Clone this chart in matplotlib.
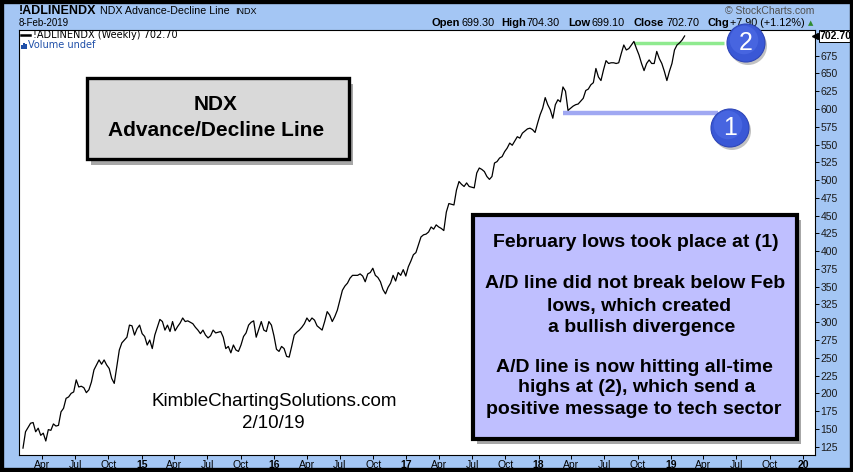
#!/usr/bin/env python3

import matplotlib
matplotlib.use("Agg")
import matplotlib.pyplot as plt
import matplotlib.dates as mdates
from matplotlib.patches import Rectangle, Circle
from matplotlib.lines import Line2D
from matplotlib.transforms import blended_transform_factory
import pandas as pd

W, H = 854, 472
BG = "#A4C6F4"
FONT = "Liberation Sans"

# weekly NDX advance/decline line (Feb 2014 .. 8 Feb 2019)
ad_values = [
    123, 146, 152, 158, 159, 146, 151, 141, 144, 133,
    149, 148, 157, 154, 155, 174, 179, 193, 195, 200,
    202, 219, 209, 210, 208, 201, 205, 216, 233, 240,
    247, 241, 247, 240, 235, 221, 214, 238, 261, 271,
    275, 279, 296, 295, 282, 291, 296, 284, 280, 268,
    275, 263, 282, 293, 304, 301, 289, 296, 287, 301,
    288, 294, 299, 306, 301, 302, 300, 298, 293, 289,
    284, 289, 282, 278, 281, 289, 285, 286, 287, 279,
    263, 266, 257, 268, 261, 259, 268, 280, 285, 296,
    300, 302, 279, 290, 301, 289, 287, 301, 296, 281,
    262, 259, 266, 263, 252, 251, 266, 282, 286, 289,
    293, 298, 306, 301, 306, 303, 295, 292, 289, 301,
    315, 310, 301, 308, 317, 331, 345, 351, 355, 362,
    366, 366, 366, 368, 365, 357, 368, 370, 376, 366,
    363, 357, 346, 340, 349, 355, 366, 358, 370, 366,
    374, 365, 378, 386, 395, 398, 409, 420, 423, 424,
    427, 434, 431, 437, 434, 432, 429, 455, 467, 466,
    465, 486, 498, 494, 491, 496, 491, 490, 489, 510,
    517, 515, 512, 505, 501, 505, 524, 526, 531, 533,
    540, 545, 552, 549, 555, 561, 559, 566, 569, 572,
    573, 571, 567, 580, 592, 601, 616, 606, 599, 587,
    606, 613, 610, 631, 625, 598, 601, 604, 606, 607,
    611, 615, 626, 628, 634, 637, 657, 645, 640, 655,
    668, 664, 665, 665, 664, 665, 678, 690, 683, 685,
    690, 695, 685, 676, 664, 654, 664, 669, 664, 664,
    681, 671, 664, 653, 640, 653, 664, 683, 690, 693,
    697, 702.7,
]
last_week = "2019-02-08"
last_close = "702.70"

y_ticks = list(range(125, 676, 25))
month_names = {4: "Apr", 7: "Jul", 10: "Oct"}

# horizontal reference lines: (level, start, end, colour)
resistance = (693, "2018-09-21", "2019-05-29", "#8FEA8F")
support = (595, "2018-03-08", "2019-05-10", "#A0A8F2")

quote_parts = [
    ("Open", True), ("699.30", False), ("High", True), ("704.30", False),
    ("Low", True), ("699.10", False), ("Close", True), ("702.70", False),
    ("Chg", True), ("+7.90 (+1.12%)", False),
]
quote_x = [431.5, 461.5, 501.5, 526.5, 568, 592, 634, 666.5, 707.5, 730]

note_lines = [
    "February lows took place at (1)",
    "A/D line did not break below Feb",
    "lows, which created",
    "a bullish divergence",
    "A/D line is now hitting all-time",
    "highs at (2), which send a",
    "positive message to tech sector",
]
note_y = [243, 284, 306, 327, 367, 388, 409]
note_x = [636, 635, 639, 642, 634, 637, 634]


def fx(px):
    return px / W


def fy(py):
    return 1 - py / H


def box(fig, x0, y0, x1, y1, face, lw):
    '''
    Draw a framed box with a soft shadow, given in pixel coordinates
    '''
    shadow = Rectangle((fx(x0 + 4), fy(y1 + 5)), fx(x1 - x0), (y1 - y0) / H,
                       transform=fig.transFigure, facecolor="#606060",
                       edgecolor="none", alpha=0.55, zorder=4)
    frame = Rectangle((fx(x0), fy(y1)), fx(x1 - x0), (y1 - y0) / H,
                      transform=fig.transFigure, facecolor=face,
                      edgecolor="black", linewidth=lw, zorder=5)
    fig.add_artist(shadow)
    fig.add_artist(frame)


def badge(fig, cx, cy, label):
    '''
    Blue numbered circle, centre in pixels
    '''
    r = 19 / 100
    c = (cx / 100, (H - cy) / 100)
    fig.add_artist(Circle((c[0] + 0.02, c[1] - 0.03), r, transform=fig.dpi_scale_trans,
                          facecolor="#505050", alpha=0.35, edgecolor="none", zorder=10))
    fig.add_artist(Circle(c, r, transform=fig.dpi_scale_trans,
                          facecolor="#3A58D6", edgecolor="#2E46B8", linewidth=0.8, zorder=11))
    fig.add_artist(Circle((c[0] - 0.02, c[1] + 0.03), r * 0.75, transform=fig.dpi_scale_trans,
                          facecolor="#5573EA", edgecolor="none", alpha=0.5, zorder=11))
    fig.text(fx(cx), fy(cy), label, color="white", fontsize=18, family=FONT,
             ha="center", va="center", zorder=12)


def main():
    dates = pd.date_range(end=last_week, periods=len(ad_values), freq="7D")
    x_start = pd.Timestamp("2014-01-27")
    x_end = pd.Timestamp("2020-02-03")

    fig = plt.figure(figsize=(W / 100, H / 100), dpi=100)
    fig.patch.set_facecolor(BG)
    ax = fig.add_axes([fx(19), fy(455), fx(815 - 19), (455 - 30) / H])
    ax.set_facecolor("white")

    ax.plot(dates, ad_values, color="black", linewidth=0.9, zorder=3)
    for level, start, end, colour, lw in [resistance + (2.5,), support + (3.2,)]:
        ax.hlines(level, pd.Timestamp(start), pd.Timestamp(end),
                  color=colour, linewidth=lw, zorder=2)

    ax.set_xlim(x_start, x_end)
    ax.set_ylim(113.3, 711.1)

    # x ticks: quarters, with bold two-digit years
    tick_pos, tick_lab = [], []
    for year in range(2014, 2021):
        for month in (1, 4, 7, 10):
            d = pd.Timestamp(year, month, 1)
            if x_start <= d <= x_end:
                tick_pos.append(mdates.date2num(d))
                tick_lab.append(f"{year % 100:02d}" if month == 1 else month_names[month])
    ax.set_xticks(tick_pos)
    ax.set_xticklabels(tick_lab, family=FONT, fontsize=7.5)
    for lab in ax.get_xticklabels():
        if lab.get_text().isdigit():
            lab.set_fontweight("bold")
    ax.tick_params(axis="x", direction="out", length=3, pad=0.5, width=0.7)

    ax.yaxis.tick_right()
    ax.set_yticks(y_ticks)
    ax.set_yticklabels([str(v) for v in y_ticks], family=FONT, fontsize=7.5, color="#1a1a1a")
    ax.tick_params(axis="y", direction="out", length=3, pad=1, width=0.7)
    for spine in ax.spines.values():
        spine.set_linewidth(0.8)
        spine.set_color("black")

    # last value tag on the right axis
    trans = blended_transform_factory(ax.transAxes, ax.transData)
    ax.text(1.006, float(last_close), last_close, transform=trans, ha="left", va="center",
            fontsize=7.5, fontweight="bold", family=FONT, clip_on=False,
            bbox=dict(boxstyle="square,pad=0.12", facecolor="white", edgecolor="black", linewidth=0.7))
    ax.plot([1.0], [float(last_close)], marker="<", markersize=4, color="black",
            transform=trans, clip_on=False)

    # outer black frame
    fig.add_artist(Rectangle((0, 0), 1, 1, transform=fig.transFigure, fill=False,
                             edgecolor="black", linewidth=6, zorder=20))

    # header
    fig.text(fx(19), fy(10.5), "!ADLINENDX", fontsize=9, fontweight="bold", family=FONT, va="center")
    fig.text(fx(100), fy(11), "NDX Advance-Decline Line", fontsize=7.7, family=FONT, va="center")
    fig.text(fx(235), fy(11), "INDX", fontsize=6.5, family=FONT, va="center")
    fig.text(fx(19), fy(23.5), "8-Feb-2019", fontsize=7, family=FONT, va="center")
    fig.text(fx(725), fy(11), "\u00a9 StockCharts.com", fontsize=7.5, family=FONT,
             color="#505050", va="center")
    for (txt, bold), x in zip(quote_parts, quote_x):
        fig.text(fx(x), fy(23.3), txt, fontsize=8 if bold else 7.8, family=FONT,
                 fontweight="bold" if bold else "normal", va="center")
    fig.text(fx(808), fy(23.3), "\u25b2", fontsize=5, family="DejaVu Sans",
             color="#2E8B2E", va="center")

    # in-chart legend
    fig.add_artist(Line2D([fx(21), fx(30)], [fy(35), fy(35)], color="black", linewidth=1.8,
                          transform=fig.transFigure, zorder=6))
    fig.text(fx(33), fy(35.5), "!ADLINENDX (Weekly) 702.70", fontsize=7, family="DejaVu Sans",
             va="center", zorder=6)
    for i, hgt in enumerate([4, 6, 5]):
        fig.add_artist(Rectangle((fx(21 + i * 2.2), fy(49)), fx(1.6), hgt / H,
                                 transform=fig.transFigure, facecolor="#1F4FA8",
                                 edgecolor="none", zorder=6))
    fig.text(fx(28.5), fy(45.5), "Volume undef", fontsize=7, family="DejaVu Sans",
             color="#1F4FA8", va="center", zorder=6)

    # title box
    box(fig, 87, 78.5, 349, 159.5, "#D9D9D9", 2.4)
    fig.text(fx(216), fy(105), "NDX", fontsize=15, fontweight="bold", family=FONT,
             ha="center", va="center", zorder=6)
    fig.text(fx(216), fy(131), "Advance/Decline Line", fontsize=15, fontweight="bold",
             family=FONT, ha="center", va="center", zorder=6)

    # comment box
    box(fig, 473, 215, 797, 438.5, "#BFBFFF", 3.0)
    for txt, x, y in zip(note_lines, note_x, note_y):
        fig.text(fx(x), fy(y), txt, fontsize=14, fontweight="bold", family=FONT,
                 ha="center", va="center", zorder=6)

    fig.text(fx(274), fy(402), "KimbleChartingSolutions.com", fontsize=13.5, family=FONT,
             ha="center", va="center")
    fig.text(fx(273), fy(424), "2/10/19", fontsize=13.5, family=FONT, ha="center", va="center")

    badge(fig, 746, 43, "2")
    badge(fig, 730, 128, "1")

    fig.savefig("out.png", dpi=100, facecolor=fig.get_facecolor())


if __name__ == '__main__':
    main()
